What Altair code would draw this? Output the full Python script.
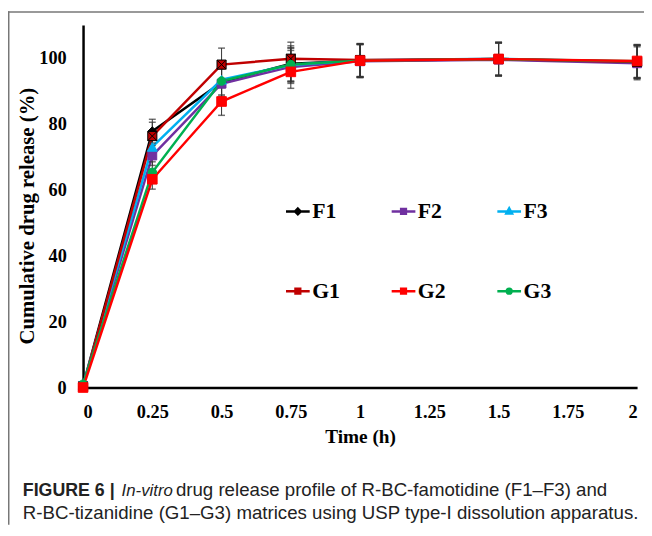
import altair as alt
import pandas as pd

# ---------------- data ----------------
times = [0, 0.25, 0.5, 0.75, 1, 1.5, 2]
series_names = ["F1", "F2", "F3", "G1", "G2", "G3"]

F1 = [0.6, 77.8, 92.6, 98.3, 99.2, 99.6, 98.8]
F2 = [0.5, 70.4, 92.2, 97.3, 99.0, 99.5, 98.4]
F3 = [0.8, 73.0, 93.4, 97.9, 99.3, 99.8, 98.9]
G1 = [0.3, 76.3, 98.0, 99.8, 99.4, 99.7, 98.8]
G2 = [0.0, 63.2, 86.8, 95.8, 99.2, 99.7, 99.1]
G3 = [1.0, 65.3, 93.0, 98.0, 99.2, 99.7, 99.0]

F1_sd = [0.3, 3.6, 4.8, 5.4, 5.0, 5.0, 5.0]
F2_sd = [0.3, 3.0, 4.5, 5.0, 5.0, 5.0, 5.0]
F3_sd = [0.3, 3.2, 4.6, 5.2, 5.0, 5.0, 5.0]
G1_sd = [0.3, 4.2, 5.0, 5.0, 5.0, 5.0, 5.0]
G2_sd = [0.3, 3.0, 4.2, 5.0, 5.0, 5.0, 5.0]
G3_sd = [0.3, 3.2, 4.6, 5.0, 5.0, 5.0, 5.0]

x_ticks = [0, 0.25, 0.5, 0.75, 1, 1.25, 1.5, 1.75, 2]
y_ticks = [0, 20, 40, 60, 80, 100]

x_title = "Time (h)"
y_title = "Cumulative drug release (%)"
caption_bold = "FIGURE 6 |"
caption_italic = "In-vitro"
caption_rest1 = "drug release profile of R-BC-famotidine (F1\u2013F3) and"
caption_line2 = "R-BC-tizanidine (G1\u2013G3) matrices using USP type-I dissolution apparatus."

values = {"F1": F1, "F2": F2, "F3": F3, "G1": G1, "G2": G2, "G3": G3}
sds = {"F1": F1_sd, "F2": F2_sd, "F3": F3_sd, "G1": G1_sd, "G2": G2_sd, "G3": G3_sd}

rows = []
for s in series_names:
    for t, v, e in zip(times, values[s], sds[s]):
        rows.append({"series": s, "time": t, "value": v, "lo": v - e, "hi": v + e})
df = pd.DataFrame(rows)

# ---------------- styles ----------------
colors = {"F1": "#000000", "F2": "#7030A0", "F3": "#00B0F0",
          "G1": "#C00000", "G2": "#FF0000", "G3": "#00B050"}
G1_path = "M-1,-1H1V1H-1ZM-1,-1L1,1M1,-1L-1,1"
marker = {
    "F1": dict(shape="diamond", size=80, stroke="#000000"),
    "F2": dict(shape="square", size=80, stroke="#7030A0"),
    "F3": dict(shape="triangle-up", size=100, stroke="#00B0F0"),
    "G1": dict(shape=G1_path, size=85, stroke="#000000"),
    "G2": dict(shape="square", size=95, stroke="#FF0000"),
    "G3": dict(shape="circle", size=75, stroke="#00B050"),
}
legend_paths = [
    "M-1,0H1M0,-0.24L0.24,0L0,0.24L-0.24,0Z",
    "M-1,0H1M-0.2,-0.2H0.2V0.2H-0.2Z",
    "M-1,0H1M0,-0.26L0.24,0.18H-0.24Z",
    "M-1,0H1M-0.2,-0.2H0.2V0.2H-0.2ZM-0.2,-0.2L0.2,0.2M0.2,-0.2L-0.2,0.2",
    "M-1,0H1M-0.2,-0.2H0.2V0.2H-0.2Z",
    "M-1,0H1M0.2,0A0.2,0.2,0,1,1,-0.2,0A0.2,0.2,0,1,1,0.2,0Z",
]

W, H = 561, 367
PAD_L, PAD_T, PAD_R = 76, 14, 7
TOTAL_H = 520
PAD_B = TOTAL_H - PAD_T - H

SERIF = "Liberation Serif"
SANS = "Liberation Sans"

xscale = alt.Scale(domain=[0, 2], nice=False, zero=False)
yscale = alt.Scale(domain=[0, 110], nice=False)
xaxis = alt.Axis(values=x_ticks, labelExpr="datum.value + ''", title=x_title, labelPadding=15,
                 titleY=50, titleBaseline="middle", labelFontSize=18.5, titleFontSize=19.5)
yaxis = alt.Axis(values=y_ticks, title=y_title, labelPadding=17,
                 titleX=-56, titleY=193, titleBaseline="middle", titleAlign="center",
                 labelFontSize=18.5, titleFontSize=21)


def X(field="time"):
    return alt.X(f"{field}:Q", scale=xscale, axis=xaxis)


def Y(field="value"):
    return alt.Y(f"{field}:Q", scale=yscale, axis=yaxis)


base = alt.Chart(df)

line_order = ["F1", "F2", "F3", "G1", "G3", "G2"]
lines = [
    base.transform_filter(alt.datum.series == s)
    .mark_line(color=colors[s], strokeWidth=2.5)
    .encode(x=X(), y=Y())
    for s in line_order
]

err_rule = base.mark_rule(color="#333333", strokeWidth=1).encode(
    x=X(), y=Y("lo"), y2="hi:Q")
cap_hi = base.mark_tick(orient="horizontal", color="#333333", size=7, thickness=1.5).encode(
    x=X(), y=Y("hi"))
cap_lo = base.mark_tick(orient="horizontal", color="#333333", size=7, thickness=1.5).encode(
    x=X(), y=Y("lo"))

points = [
    base.transform_filter(alt.datum.series == s)
    .mark_point(filled=True, opacity=1, shape=marker[s]["shape"], size=marker[s]["size"],
                fill=colors[s], stroke=marker[s]["stroke"], strokeWidth=1)
    .encode(x=X(), y=Y())
    for s in line_order
]

leg = alt.Legend(orient="none", legendX=204, legendY=175, columns=3, direction="horizontal",
                 title=None, symbolSize=576, symbolStrokeWidth=2.5, labelFont=SERIF,
                 labelFontWeight="bold", labelFontSize=22, labelColor="black",
                 labelOffset=1, rowPadding=56, columnPadding=46, padding=0,
                 symbolOpacity=1)
color_list = [colors[s] for s in series_names]
legend_layer = base.transform_filter("datum.value > 1000").mark_point(
    filled=True, opacity=1, strokeWidth=2.5).encode(
    x=X(), y=Y(),
    color=alt.Color("series:N", scale=alt.Scale(domain=series_names, range=color_list), legend=leg),
    stroke=alt.Stroke("series:N", scale=alt.Scale(domain=series_names, range=color_list), legend=leg),
    shape=alt.Shape("series:N", scale=alt.Scale(domain=series_names, range=legend_paths), legend=leg),
)

one = alt.Chart(pd.DataFrame({"k": [0]}))
frame_top = one.mark_rule(color="#777777", strokeWidth=1.5).encode(
    x=alt.value(-PAD_L), x2=alt.value(W + PAD_R), y=alt.value(-PAD_T + 0.75))
frame_left = one.mark_rule(color="#777777", strokeWidth=1.5).encode(
    x=alt.value(-PAD_L + 0.75), y=alt.value(-PAD_T), y2=alt.value(H + PAD_B))

cap_x0 = -61
cap_y1 = 477
cap_y2 = 500
cap1 = one.mark_text(font=SANS, fontSize=18, fontWeight="bold", align="left",
                     baseline="alphabetic", color="#222222").encode(
    x=alt.value(cap_x0), y=alt.value(cap_y1), text=alt.value(caption_bold))
cap2 = one.mark_text(font=SANS, fontSize=17, fontStyle="italic", align="left",
                     baseline="alphabetic", color="#222222").encode(
    x=alt.value(cap_x0 + 100), y=alt.value(cap_y1), text=alt.value(caption_italic))
cap3 = one.mark_text(font=SANS, fontSize=18.9, align="left",
                     baseline="alphabetic", color="#222222").encode(
    x=alt.value(cap_x0 + 155), y=alt.value(cap_y1), text=alt.value(caption_rest1))
cap4 = one.mark_text(font=SANS, fontSize=18.9, align="left",
                     baseline="alphabetic", color="#222222").encode(
    x=alt.value(cap_x0), y=alt.value(cap_y2), text=alt.value(caption_line2))

chart = alt.layer(
    *lines, err_rule, cap_hi, cap_lo, *points, legend_layer,
    frame_top, frame_left, cap1, cap2, cap3, cap4
).properties(
    width=W, height=H,
    autosize=alt.AutoSizeParams(type="none"),
    padding={"left": PAD_L, "top": PAD_T, "right": PAD_R, "bottom": PAD_B},
).configure_view(stroke=None).configure_axis(
    grid=False, ticks=False, tickSize=0, domainColor="black", domainWidth=2.5,
    labelFont=SERIF, labelFontWeight="bold", labelColor="black",
    titleFont=SERIF, titleFontWeight="bold", titleColor="black",
)

chart.save("out.html", embed_options={"renderer": "svg", "actions": False})
